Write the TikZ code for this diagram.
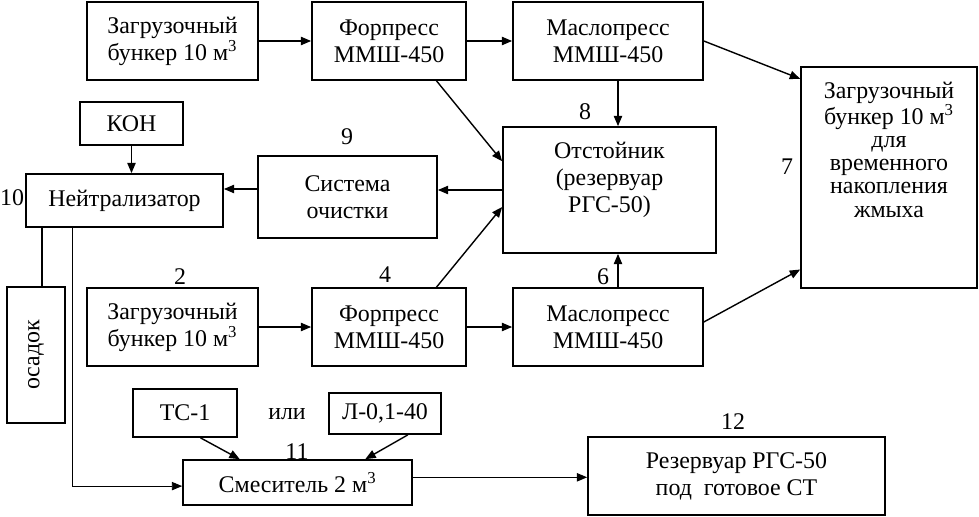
\documentclass[tikz,border=0pt]{standalone}
\usepackage{fontspec}
\setmainfont{Liberation Serif}
\usetikzlibrary{arrows.meta, positioning}

\begin{document}
\begin{tikzpicture}[
    font=\fontsize{17}{19.2}\selectfont,
    blk/.style={draw, rectangle, align=center, line width=1.2pt, inner sep=1pt},
    rel/.style={-{Triangle[length=2.6mm, width=2.1mm]}, line width=1pt},
    lnk/.style={line width=1.2pt},
    num/.style={inner sep=0pt}
]
\useasboundingbox (0,0) rectangle (24.475,-12.9);

\node[blk, minimum width=4.275cm, minimum height=1.95cm] (b1) at (4.3125,-1.025) {Загрузочный\\бункер 10 м\textsuperscript{3}};
\node[blk, minimum width=3.85cm, minimum height=1.95cm] (f1) at (9.725,-1.025) {Форпресс\\ММШ-450};
\node[blk, minimum width=4.75cm, minimum height=1.95cm] (m1) at (15.2,-1.025) {Маслопресс\\ММШ-450};
\node[blk, minimum width=4.4cm, minimum height=5.525cm, font=\fontsize{17}{16.4}\selectfont, text depth=1.4cm] (bin) at (22.225,-4.4375) {Загрузочный\\бункер 10 м\textsuperscript{3}\\для\\временного\\накопления\\жмыха};
\node[blk, minimum width=5.325cm, minimum height=3.15cm, text depth=0.65cm] (ots) at (15.2375,-4.75) {Отстойник\\(резервуар\\РГС-50)};
\node[blk, minimum width=2.575cm, minimum height=1.075cm] (kon) at (3.2875,-3.0875) {КОН};
\node[blk, minimum width=4.925cm, minimum height=1.325cm] (neu) at (3.1125,-5.0125) {Нейтрализатор};
\node[blk, minimum width=4.475cm, minimum height=2.05cm] (sys) at (8.6875,-4.925) {Система\\очистки};
\node[blk, minimum width=1.45cm, minimum height=3.4cm] (osd) at (0.9,-8.875) {\rotatebox{90}{осадок}};
\node[blk, minimum width=4.275cm, minimum height=1.95cm] (b2) at (4.3125,-8.175) {Загрузочный\\бункер 10 м\textsuperscript{3}};
\node[blk, minimum width=3.85cm, minimum height=1.95cm] (f2) at (9.725,-8.175) {Форпресс\\ММШ-450};
\node[blk, minimum width=4.75cm, minimum height=1.95cm] (m2) at (15.2,-8.175) {Маслопресс\\ММШ-450};
\node[blk, minimum width=2.6cm, minimum height=1.2cm] (ts) at (4.625,-10.325) {ТС-1};
\node[blk, minimum width=2.8cm, minimum height=1.025cm] (lo) at (9.625,-10.3375) {Л-0,1-40};
\node[blk, minimum width=5.725cm, minimum height=1.125cm] (mix) at (7.4375,-12.0625) {Смеситель 2 м\textsuperscript{3}};
\node[blk, minimum width=7.425cm, minimum height=1.95cm] (res) at (18.4125,-11.9) {Резервуар РГС-50\\под\ \ готовое СТ};

\node[num] (n10) at (0.3,-4.95) {10};
\node[num] (n9) at (8.675,-3.425) {9};
\node[num] (n8) at (14.625,-2.8) {8};
\node[num] (n7) at (19.675,-4.175) {7};
\node[num] (n2) at (4.5,-6.925) {2};
\node[num] (n4) at (9.625,-6.875) {4};
\node[num] (n6) at (15.075,-6.925) {6};
\node[num] (n11) at (7.425,-11.3) {11};
\node[num] (n12) at (18.325,-10.55) {12};
\node[num] (or) at (7.175,-10.35) {или};

\draw[rel] (b1) -- (f1);
\draw[rel] (f1) -- (m1);
\draw[rel] (m1.east) -- (bin.132);
\draw[rel] ([xshift=0.25cm]m1.south) -- ([xshift=0.25cm]m1.south |- ots.north);
\draw[rel] (f1.-40) -- (ots.165);
\draw[rel] (f2.40) -- (ots.189);
\draw[rel] (ots.west) -- (ots.west -| sys.east);
\draw[rel] ([yshift=0.2cm]sys.west) -- ([yshift=0.2cm]sys.west -| neu.east);
\draw[rel] (kon.south) -- (kon.south |- neu.north);
\draw[lnk] ([xshift=0.425cm]neu.south west) -- ([xshift=0.425cm]neu.south west |- osd.north);
\draw[rel, line width=0.7pt] ([xshift=1.175cm]neu.south west) |- ([yshift=-0.09cm]mix.west);
\draw[rel] (b2) -- (f2);
\draw[rel] (f2) -- (m2);
\draw[rel] ([xshift=0.25cm]m2.north) -- ([xshift=0.25cm]m2.north |- ots.south);
\draw[rel] (m2.3) -- (bin.226);
\draw[rel] (ts.-58) -- (mix.158);
\draw[rel] (lo.-43) -- (mix.19);
\draw[rel] ([yshift=0.13cm]mix.east) -- ([yshift=0.13cm]mix.east -| res.west);
\end{tikzpicture}
\end{document}
